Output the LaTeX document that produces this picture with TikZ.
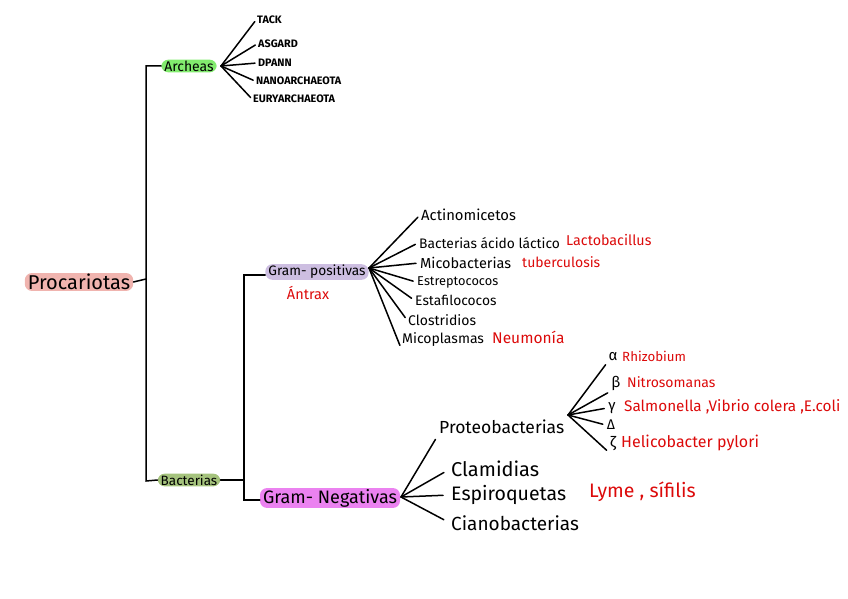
\documentclass[tikz,border=0pt]{standalone}
\usepackage{fontspec}
\setmainfont{Fira Sans}
\definecolor{pinkhl}{RGB}{240,180,175}
\definecolor{greenhl}{RGB}{130,235,110}
\definecolor{olivehl}{RGB}{165,195,125}
\definecolor{lavhl}{RGB}{205,190,225}
\definecolor{magentahl}{RGB}{235,130,240}
\definecolor{redtxt}{RGB}{220,10,10}
\newcommand{\fs}[1]{\fontsize{#1}{#1}\selectfont}
\begin{document}
\begin{tikzpicture}[x=1pt,y=-1pt,
  conn/.style={line width=1.5pt,line cap=round},
  hl/.style={rounded corners=7pt,inner xsep=3pt,inner ysep=1pt},
  lbl/.style={anchor=west,inner sep=1pt},
  arc/.style={anchor=west,inner sep=1pt,font=\fs{10.8}\bfseries},
  rt/.style={text=redtxt}]
\useasboundingbox (0,0) rectangle (848,599);
% main nodes
\node[hl,fill=pinkhl,font=\fs{20}] (proc) at (79,282) {Procariotas};
\node[hl,fill=greenhl,font=\fs{14}] (arch) at (189,66) {Archeas};
\node[hl,fill=olivehl,font=\fs{13.5}] (bact) at (189,480) {Bacterias};
\node[hl,fill=lavhl,font=\fs{13.7}] (gp) at (317,272) {Gram- positivas};
\node[hl,fill=magentahl,font=\fs{18}] (gn) at (330,498) {Gram- Negativas};
% spine
\coordinate (sTop) at (146,66);
\coordinate (sBot) at (146,481);
\coordinate (sMid) at (146,279);
\draw[conn] (arch.west) -- (sTop) -- (sBot) -- (bact.west);
\draw[conn] (proc.east) -- (sMid);
\coordinate (gTop) at (244,275);
\coordinate (gMid) at (244,480);
\coordinate (gBot) at (244,500);
\draw[conn] (bact.east) -- (gMid);
\draw[conn] (gp.west |- gTop) -- (gTop) -- (gBot) -- (gn.west |- gBot);
% Archeas children
\node[arc] (tack) at (256,20) {TACK};
\node[arc] (asg) at (257,44) {ASGARD};
\node[arc] (dpann) at (257,63) {DPANN};
\node[arc] (nano) at (255,81) {NANOARCHAEOTA};
\node[arc] (eury) at (252,99) {EURYARCHAEOTA};
\coordinate (aHub) at (221,66);
\foreach \n in {tack,asg,dpann,nano,eury}
  \draw[conn,shorten >=2pt] (aHub) -- (\n.west);
% Gram-positivas children
\coordinate (pHub) at (369,268);
\node[lbl,font=\fs{14.8}] (actino) at (420,215) {Actinomicetos};
\node[lbl,font=\fs{13.8}] (lact) at (418,243) {Bacterias ácido láctico};
\node[lbl,rt,font=\fs{14.3}] (lactob) at (565,240) {Lactobacillus};
\node[lbl,font=\fs{14.5}] (mico) at (419,263) {Micobacterias};
\node[lbl,rt,font=\fs{14}] (tuber) at (521,262) {tuberculosis};
\node[lbl,font=\fs{12.8}] (strep) at (416,282) {Estreptococos};
\node[lbl,font=\fs{13.8}] (staph) at (414,300) {Estafilococos};
\node[lbl,font=\fs{14}] (clos) at (407,320) {Clostridios};
\node[lbl,font=\fs{14}] (myco) at (401,340) {Micoplasmas};
\node[lbl,rt,font=\fs{15.5}] (neum) at (491,337) {Neumonía};
\node[lbl,rt,anchor=center,font=\fs{14.5}] (antrax) at (308,293) {Ántrax};
\foreach \n in {actino,lact,mico,strep,staph,clos}
  \draw[conn,shorten >=3pt] (pHub) -- (\n.west);
\draw[conn,shorten >=3pt] (pHub) -- (myco.south west);
% Gram-negativas children
\coordinate (nHub) at (401,497);
\node[lbl,font=\fs{17.5}] (prot) at (438,427) {Proteobacterias};
\node[lbl,font=\fs{20}] (clam) at (450,469) {Clamidias};
\node[lbl,font=\fs{19.5}] (espi) at (450,495) {Espiroquetas};
\node[lbl,font=\fs{19}] (ciano) at (450,523) {Cianobacterias};
\node[lbl,rt,font=\fs{19.5}] (lyme) at (588,492) {Lyme , sífilis};
\draw[conn,shorten >=5pt] (nHub) -- (prot.south west);
\foreach \n in {clam,espi,ciano}
  \draw[conn,shorten >=7pt] (nHub) -- (\n.west);
% Proteobacterias children
\coordinate (qHub) at (568,415);
\node[lbl,anchor=center,font=\fs{15}] (ga) at (613,357) {α};
\node[lbl,anchor=center,font=\fs{15}] (gb) at (616,383) {β};
\node[lbl,anchor=center,font=\fs{15}] (gg) at (612,408) {γ};
\node[lbl,anchor=center,font=\fs{14}] (gd) at (611,425) {Δ};
\node[lbl,anchor=center,font=\fs{15}] (gz) at (613,444) {ζ};
\node[lbl,rt,font=\fs{13.3}] (rhizo) at (621,356) {Rhizobium};
\node[lbl,rt,font=\fs{14}] (nitro) at (626,382) {Nitrosomanas};
\node[lbl,rt,font=\fs{15.3}] (salmo) at (623,407) {Salmonella ,Vibrio colera ,E.coli};
\node[lbl,rt,font=\fs{16}] (helico) at (620,443) {Helicobacter pylori};
\draw[conn,shorten >=3pt] (qHub) -- (ga.south west);
\draw[conn,shorten >=3pt] (qHub) -- (gb.south west);
\draw[conn,shorten >=3pt] (qHub) -- (gg.west);
\draw[conn,shorten >=3pt] (qHub) -- (gd.west);
\draw[conn,shorten >=3pt] (qHub) -- (gz.south west);
\end{tikzpicture}
\end{document}
